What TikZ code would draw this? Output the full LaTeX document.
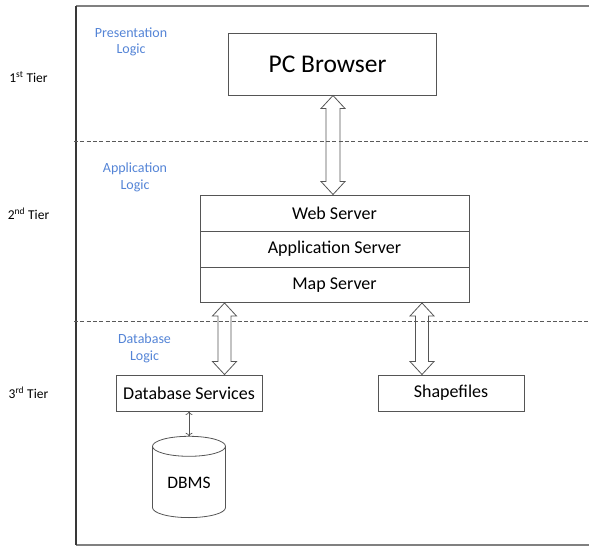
\documentclass[tikz,border=0pt]{standalone}
\usepackage{fontspec}
\setmainfont{Carlito}
\usetikzlibrary{calc,arrows.meta}

\definecolor{logicblue}{RGB}{84,132,214}
\definecolor{edgegray}{RGB}{85,85,85}

% Hollow two-headed block arrow between two points (vertical);
% the x position is taken from the first point.
\newcommand\hollowdouble[3]{%
  \draw[blockarrow] let \p1=#1, \p2=#2 in
    (\x1,\y1) -- (\x1+12,\y1-13) -- (\x1+#3,\y1-13) -- (\x1+#3,\y2+13)
    -- (\x1+12,\y2+13) -- (\x1,\y2) -- (\x1-12,\y2+13) -- (\x1-#3,\y2+13)
    -- (\x1-#3,\y1-13) -- (\x1-12,\y1-13) -- cycle;}

\tikzset{
  box/.style={draw=edgegray, line width=1pt, rectangle, inner sep=0pt,
    font=\fontsize{18}{21}\selectfont},
  tierlabel/.style={font=\fontsize{13.5}{16}\selectfont, inner sep=0pt},
  logiclabel/.style={font=\fontsize{14}{16.7}\selectfont, text=logicblue,
    align=center, inner sep=0pt},
  blockarrow/.style={draw=edgegray, line width=0.8pt, line join=miter},
  tierline/.style={draw=black!65, line width=1pt, dash pattern=on 4pt off 2.3pt},
  thinarrow/.style={draw=edgegray, line width=0.7pt,
    {To[length=3.5pt,width=7pt]}-{To[length=3.5pt,width=7pt]}},
}

\begin{document}
\begin{tikzpicture}[x=1pt, y=1pt]
  \useasboundingbox (0,0) rectangle (589,-546);

  % outer frame (open on the right)
  \draw[black!50, line width=1.2pt] (76,-6) -- (589,-6);
  \draw[black!50, line width=1.2pt] (76,-545) -- (589,-545);
  \draw[black!78, line width=1.2pt] (76,-6) -- (76,-545);

  % tier separators
  \draw[tierline] (74,-141) -- (589,-141);
  \draw[tierline] (74,-321) -- (589,-321);

  % tier labels
  \node[tierlabel] (t1) at (28.5,-77) {1\textsuperscript{st} Tier};
  \node[tierlabel] (t2) at (28.5,-214) {2\textsuperscript{nd} Tier};
  \node[tierlabel] (t3) at (28.5,-393) {3\textsuperscript{rd} Tier};

  % logic labels
  \node[logiclabel] (pl) at (131,-42) {Presentation\\Logic};
  \node[logiclabel] (al) at (135,-177) {Application\\Logic};
  \node[logiclabel] (dl) at (144.5,-348) {Database\\Logic};

  % presentation tier
  \node[box, minimum width=208, minimum height=62,
        font=\fontsize{25.5}{30}\selectfont] (pc) at (332,-64) {\hspace*{-9pt}PC Browser};

  % application tier (stacked servers)
  \node[box, minimum width=269, minimum height=36] (web) at (334.5,-213) {Web Server};
  \node[box, minimum width=269, minimum height=36] (app) at (334.5,-249) {Application Server};
  \node[box, minimum width=269, minimum height=35.5] (map) at (334.5,-284.75) {Map Server};

  % database tier
  \node[box, minimum width=146, minimum height=36] (dbs) at (189,-393) {Database Services};
  \node[box, minimum width=146, minimum height=36] (shp) at (451,-393) {Shapefiles};

  % DBMS cylinder
  \node[inner sep=0pt, minimum width=73, minimum height=93,
        font=\fontsize{17.5}{20}\selectfont] (dbms) at (189,-483) {DBMS};
  \coordinate (dbtop) at ($(dbms.north)+(0,-10)$);
  \draw[edgegray, line width=0.8pt] (dbtop) ellipse (36.5 and 10);
  \draw[edgegray, line width=0.8pt] ($(dbtop)+(-36.5,0)$) -- ++(0,-61.3)
     arc (180:360:36.5 and 10) -- ($(dbtop)+(36.5,0)$);

  % connectors
  \hollowdouble{($(pc.south)+(1,0)$)}{(web.north)}{7}
  \hollowdouble{($(map.south)+(-110,0)$)}{(dbs.north)}{6.5}
  \hollowdouble{($(map.south)+(87.5,0)$)}{(shp.north)}{6.5}
  \draw[thinarrow] (dbs.south) -- (dbms.north);
\end{tikzpicture}
\end{document}
